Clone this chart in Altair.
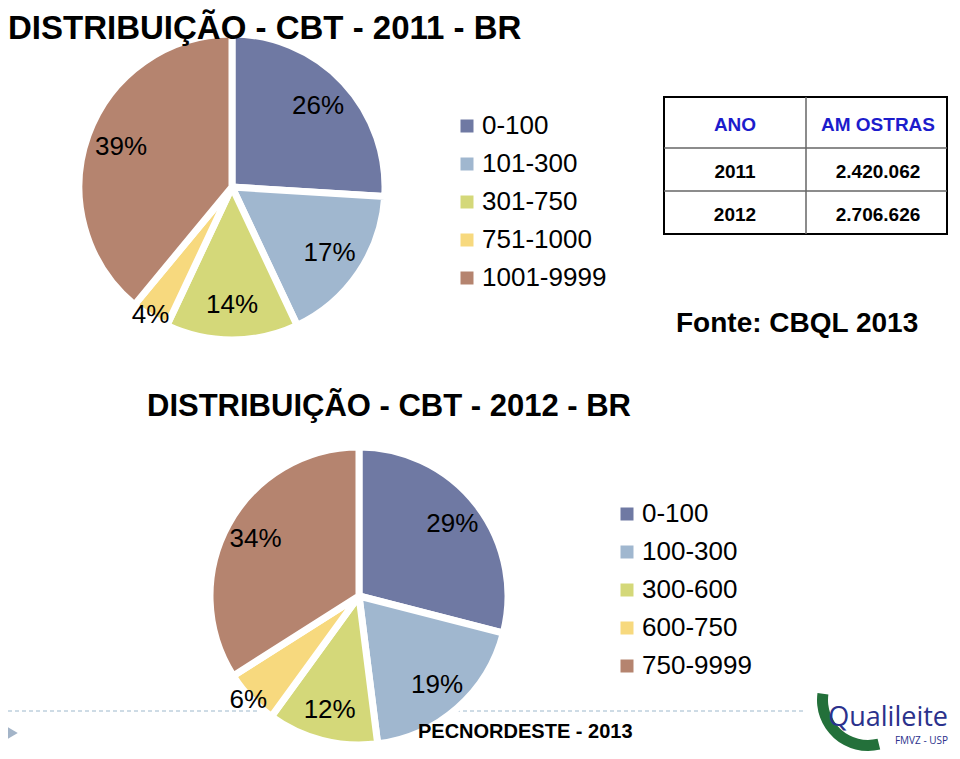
import altair as alt
import pandas as pd

# ---------------- data ----------------
title_2011 = "DISTRIBUIÇÃO - CBT - 2011 - BR"
title_2012 = "DISTRIBUIÇÃO - CBT - 2012 - BR"
cats_2011 = ["0-100", "101-300", "301-750", "751-1000", "1001-9999"]
pct_2011 = [26, 17, 14, 4, 39]
cats_2012 = ["0-100", "100-300", "300-600", "600-750", "750-9999"]
pct_2012 = [29, 19, 12, 6, 34]
slice_colors = ["#6f79a3", "#a0b7cf", "#d4d879", "#f7d97e", "#b5846f"]

table_header = ["ANO", "AM OSTRAS"]
table_years = ["2011", "2012"]
table_amostras = ["2.420.062", "2.706.626"]
source_text = "Fonte: CBQL 2013"
source_2012 = "PECNORDESTE - 2013"
logo_text = "Qualileite"
logo_sub = "FMVZ - USP"

FONT = "Liberation Sans"

df11 = pd.DataFrame({"cat": cats_2011, "pct": pct_2011, "idx": range(len(cats_2011))})
df12 = pd.DataFrame({"cat": cats_2012, "pct": pct_2012, "idx": range(len(cats_2012))})


def pie(df, cats, cx, cy, R, lx, ly):
    base = alt.Chart(df)
    arc = base.mark_arc(outerRadius=R, stroke="white", strokeWidth=7).encode(
        theta=alt.Theta("pct:Q", stack=True, scale=alt.Scale(domain=[0, 100])),
        order=alt.Order("idx:Q"),
        color=alt.Color(
            "cat:N",
            sort=cats,
            scale=alt.Scale(domain=cats, range=slice_colors),
            legend=alt.Legend(
                orient="none", legendX=lx, legendY=ly, title=None,
                labelFontSize=26, labelFont=FONT, labelColor="black",
                symbolType="square", symbolSize=169, symbolStrokeWidth=0,
                labelOffset=2, rowPadding=12, padding=0,
            ),
        ),
        x=alt.value(cx),
        y=alt.value(cy),
    )
    txt = base.transform_window(
        cum="sum(pct)", sort=[alt.SortField("idx")]
    ).transform_calculate(
        mid="datum.cum - datum.pct / 2",
        lbl="datum.pct + '%'",
        lr="datum.pct < 8 ? 152 : 118",
    ).mark_text(fontSize=26, font=FONT, color="black").encode(
        theta=alt.Theta("mid:Q", stack=None, scale=alt.Scale(domain=[0, 100])),
        radius=alt.Radius("lr:Q", scale=None),
        text="lbl:N",
        x=alt.value(cx),
        y=alt.value(cy),
    )
    return arc, txt


def label(text, x, y, size, bold=True, color="black", align="left", font=FONT):
    return alt.Chart(alt.Data(values=[{"t": text}])).mark_text(
        fontSize=size, font=font, fontWeight="bold" if bold else "normal",
        color=color, align=align, baseline="alphabetic",
    ).encode(text="t:N", x=alt.value(x), y=alt.value(y))


# dashed separator line (left part and short right part beside the logo)
dash = alt.Chart(alt.Data(values=[{"a": 0, "b": 797}, {"a": 944, "b": 952}])).mark_rule(
    color="#9db8cc", strokeWidth=1, strokeDash=[4, 3]
).encode(x=alt.X("a:Q", scale=None), x2="b:Q", y=alt.value(703))

arc11, txt11 = pie(df11, cats_2011, 224, 179, 153, 446, 105)
arc12, txt12 = pie(df12, cats_2012, 351, 588, 149, 606, 493)

# table
tbl_box = alt.Chart(alt.Data(values=[{}])).mark_rect(
    fill=None, stroke="black", strokeWidth=2
).encode(x=alt.value(656), x2=alt.value(939), y=alt.value(89), y2=alt.value(226))
tbl_v = alt.Chart(alt.Data(values=[{}])).mark_rule(color="#666666", strokeWidth=1.5).encode(
    x=alt.value(798), y=alt.value(89), y2=alt.value(226))
tbl_h = alt.Chart(alt.Data(values=[{"yy": 140}, {"yy": 183}])).mark_rule(
    color="#666666", strokeWidth=1.5
).encode(x=alt.value(656), x2=alt.value(939), y=alt.Y("yy:Q", scale=None))

tbl_df = pd.DataFrame({
    "row": [0, 1, 2],
    "c1": [table_header[0]] + table_years,
    "c2": [table_header[1]] + table_amostras,
})
tbl_base = alt.Chart(tbl_df).transform_calculate(
    ypos="datum.row == 0 ? 123 : (datum.row == 1 ? 170 : 213)"
)
tbl_c1 = tbl_base.mark_text(fontSize=19, font=FONT, fontWeight="bold", baseline="alphabetic").encode(
    text="c1:N", x=alt.value(727), y=alt.Y("ypos:Q", scale=None),
    color=alt.condition("datum.row == 0", alt.value("#1c1ccc"), alt.value("black")),
)
tbl_c2 = tbl_base.mark_text(fontSize=19, font=FONT, fontWeight="bold", baseline="alphabetic").encode(
    text="c2:N", x=alt.value(870), y=alt.Y("ypos:Q", scale=None),
    color=alt.condition("datum.row == 0", alt.value("#1c1ccc"), alt.value("black")),
)

t1 = label(title_2011, 0, 31, 33)
t2 = label(title_2012, 139, 408, 31)
src = label(source_text, 668, 324, 28)
src2 = label(source_2012, 410, 730, 20)

# logo
gear = alt.Chart(alt.Data(values=[{}])).mark_arc(
    innerRadius=40, outerRadius=51, color="#23703a"
).encode(theta=alt.value(2.9), theta2=alt.value(4.85), x=alt.value(860), y=alt.value(692))
logo1 = label(logo_text, 940, 718, 27, bold=False, color="#2b318c", align="right", font="Open Sans")
logo2 = label(logo_sub, 940, 736, 10, bold=False, color="#2b318c", align="right", font="Open Sans")

tri = alt.Chart(alt.Data(values=[{}])).mark_point(
    shape="triangle-right", filled=True, color="#a3b4c8", size=320, opacity=1
).encode(x=alt.value(2), y=alt.value(725))

chart = alt.layer(
    dash, arc11, txt11, arc12, txt12,
    tbl_box, tbl_v, tbl_h, tbl_c1, tbl_c2,
    t1, t2, src, src2, gear, logo1, logo2, tri,
).resolve_scale(color="independent").properties(
    width=944, height=743,
    autosize=alt.AutoSizeParams(type="none"),
    padding=0,
    background="white",
).configure_view(stroke=None)

chart.save("out.html", embed_options={"renderer": "svg", "actions": False})
